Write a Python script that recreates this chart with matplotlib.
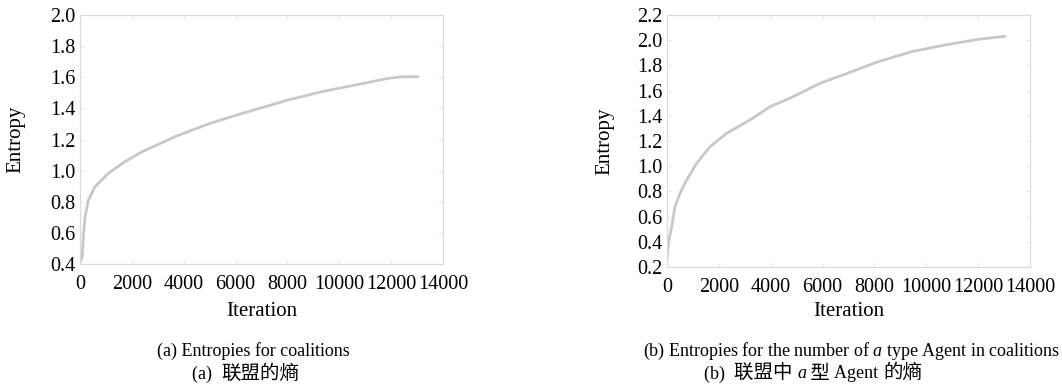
import matplotlib
matplotlib.use('Agg')
import matplotlib.pyplot as plt
from matplotlib.offsetbox import TextArea, HPacker, AnnotationBbox

plt.rcParams['mathtext.fontset'] = 'custom'
plt.rcParams['mathtext.it'] = 'Liberation Serif:italic'
plt.rcParams['mathtext.rm'] = 'Liberation Serif'

# entropy of the coalitions over the iterations
iter_a = [0, 89, 128, 193, 320, 578, 1093, 1736, 2379, 3664, 4950, 5850,
          6749, 8034, 9320, 10606, 11891, 12406, 12985, 13040]
ent_a = [0.41, 0.447, 0.575, 0.70, 0.81, 0.897, 0.983, 1.058, 1.12, 1.218, 1.30, 1.347,
         1.392, 1.454, 1.507, 1.55, 1.593, 1.603, 1.603, 1.603]

# entropy of the number of type-a agents in the coalitions
iter_b = [0, 60, 181, 309, 501, 758, 1145, 1658, 2302, 3201, 3972, 4871, 5900,
          6865, 8150, 9437, 10722, 12007, 12909, 13036]
ent_b = [0.26, 0.40, 0.52, 0.68, 0.785, 0.89, 1.023, 1.155, 1.261, 1.367, 1.472, 1.552, 1.658,
         1.73, 1.83, 1.909, 1.962, 2.007, 2.028, 2.03]

xticks = [0, 2000, 4000, 6000, 8000, 10000, 12000, 14000]
yticks_a = [0.4, 0.6, 0.8, 1.0, 1.2, 1.4, 1.6, 1.8, 2.0]
yticks_b = [0.2, 0.4, 0.6, 0.8, 1.0, 1.2, 1.4, 1.6, 1.8, 2.0, 2.2]

serif = ['Liberation Serif', 'DejaVu Serif']
cjk = ['Noto Sans CJK SC', 'DejaVu Sans']

W, H = 1062, 390
fig = plt.figure(figsize=(W/100, H/100), dpi=100)

def panel(rect, xs, ys, yticks, ylab_x):
  l, r, t, b = rect
  ax = fig.add_axes([l/W, 1-b/H, (r-l)/W, (b-t)/H])
  ax.plot(xs, ys, color='#c8c8c8', lw=2.0, solid_capstyle='round')
  ax.set_xlim(0, 14000)
  ax.set_ylim(yticks[0], yticks[-1])
  ax.set_xticks(xticks)
  ax.set_yticks(yticks)
  ax.set_xticklabels([str(v) for v in xticks], family=serif, fontsize=14.5)
  ax.set_yticklabels(['%.1f' % v for v in yticks], family=serif, fontsize=14.5)
  for s in ax.spines.values():
    s.set_color('#dadada')
  ax.tick_params(direction='in', length=3, color='#e4e4e4', top=True, right=True)
  ax.tick_params(axis='x', pad=8)
  ax.tick_params(axis='y', pad=3)
  fig.text(ylab_x/W, 1-(t+b)/2/H, 'Entropy', family=serif, fontsize=15,
           rotation=90, ha='center', va='center')
  fig.text((l+r)/2/W, 1-311/H, 'Iteration', family=serif, fontsize=15,
           ha='center', va='center')
  return ax

panel((80, 443, 15, 264), iter_a, ent_a, yticks_a, 16)
panel((667, 1030, 15, 267), iter_b, ent_b, yticks_b, 605)

# sub-figure captions, English then Chinese
fig.text(253/W, 1-351/H, '(a) Entropies for coalitions', family=serif,
         fontsize=13, ha='center', va='center')
fig.text(852/W, 1-351/H, '(b) Entropies for the number of $a$ type Agent in coalitions',
         family=serif, fontsize=13, ha='center', va='center')

def caption(x, y, parts):
  boxes = []
  for txt, fam, style, size in parts:
    boxes.append(TextArea(txt, textprops=dict(family=fam, style=style, fontsize=size)))
  pack = HPacker(children=boxes, align='baseline', pad=0, sep=0)
  ab = AnnotationBbox(pack, (x/W, 1-y/H), xycoords='figure fraction',
                      frameon=False, box_alignment=(0.5, 0.5))
  fig.add_artist(ab)

caption(246, 373, [('(a)  ', serif, 'normal', 13),
                   ('联盟的熵', cjk, 'normal', 14)])
caption(813, 373, [('(b)  ', serif, 'normal', 13),
                   ('联盟中 ', cjk, 'normal', 14),
                   ('a', serif, 'italic', 13),
                   (' 型 ', cjk, 'normal', 14),
                   ('Agent ', serif, 'normal', 13),
                   ('的熵', cjk, 'normal', 14)])

fig.savefig('out.png', dpi=100)
